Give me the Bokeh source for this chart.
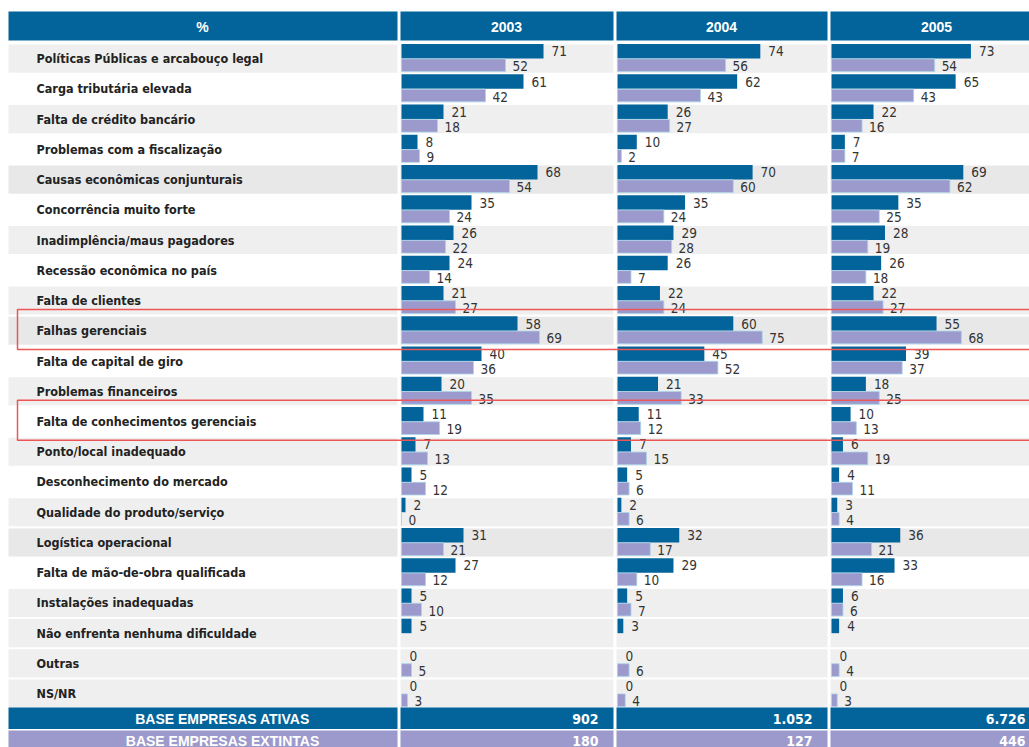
from bokeh.plotting import figure
from bokeh.models import Range1d, ColumnDataSource
from bokeh.core.properties import value
from bokeh.embed import file_html
from bokeh.resources import INLINE

# ---------------- data ----------------
categories = [
    "Políticas Públicas e arcabouço legal",
    "Carga tributária elevada",
    "Falta de crédito bancário",
    "Problemas com a fiscalização",
    "Causas econômicas conjunturais",
    "Concorrência muito forte",
    "Inadimplência/maus pagadores",
    "Recessão econômica no país",
    "Falta de clientes",
    "Falhas gerenciais",
    "Falta de capital de giro",
    "Problemas financeiros",
    "Falta de conhecimentos gerenciais",
    "Ponto/local inadequado",
    "Desconhecimento do mercado",
    "Qualidade do produto/serviço",
    "Logística operacional",
    "Falta de mão-de-obra qualificada",
    "Instalações inadequadas",
    "Não enfrenta nenhuma dificuldade",
    "Outras",
    "NS/NR",
]
years = ["2003", "2004", "2005"]
ativas_2003 = [71, 61, 21, 8, 68, 35, 26, 24, 21, 58, 40, 20, 11, 7, 5, 2, 31, 27, 5, 5, 0, 0]
extintas_2003 = [52, 42, 18, 9, 54, 24, 22, 14, 27, 69, 36, 35, 19, 13, 12, 0, 21, 12, 10, None, 5, 3]
ativas_2004 = [74, 62, 26, 10, 70, 35, 29, 26, 22, 60, 45, 21, 11, 7, 5, 2, 32, 29, 5, 3, 0, 0]
extintas_2004 = [56, 43, 27, 2, 60, 24, 28, 7, 24, 75, 52, 33, 12, 15, 6, 6, 17, 10, 7, None, 6, 4]
ativas_2005 = [73, 65, 22, 7, 69, 35, 28, 26, 22, 55, 39, 18, 10, 6, 4, 3, 36, 33, 6, 4, 0, 0]
extintas_2005 = [54, 43, 16, 7, 62, 25, 19, 18, 27, 68, 37, 25, 13, 19, 11, 4, 21, 16, 6, None, 4, 3]
base_ativas = ["902", "1.052", "6.726"]
base_extintas = ["180", "127", "446"]
highlighted = ["Falhas gerenciais", "Falta de conhecimentos gerenciais"]
row_shade = ["g", "w", "g", "w", "d", "w", "g", "w", "g", "d", "w",
             "g", "w", "g", "w", "g", "d", "w", "g", "g", "g", "g"]

# ---------------- style ----------------
DARK = "#02649a"
LIGHT = "#9c9acc"
GRAY = "#efefef"
DGRAY = "#e8e8e8"
NARROW = value("'DejaVu Sans Condensed', 'Liberation Sans Narrow', sans-serif")
SANS = value("Liberation Sans")

W, H = 1029, 747
ROW_TOP, PITCH = 43.0, 30.24

p = figure(width=W, height=H, x_range=Range1d(0, W), y_range=Range1d(H, 0),
           output_backend="svg", toolbar_location=None, min_border=0,
           x_axis_type=None, y_axis_type=None, outline_line_color=None)
p.grid.visible = False
p.background_fill_color = "white"
p.border_fill_color = "white"

# row scale: row index i -> centred on row i
r_top = -ROW_TOP / PITCH - 0.5
r_bot = (H - ROW_TOP) / PITCH - 0.5
p.extra_y_ranges = {"rows": Range1d(start=r_bot, end=r_top)}

# columns (layout px): label, 2003, 2004, 2005
col_left = [8, 400, 616, 830]
col_right = [397, 613, 827, W + 20]
scales = [2.0, 1.93, 1.91]
zero_px = [401, 617, 831]
p.extra_x_ranges = {}
for y, z, s in zip(years, zero_px, scales):
    p.extra_x_ranges["c" + y] = Range1d(start=-z / s, end=(W - z) / s)

n = len(categories)
idx = list(range(n))

# row backgrounds
shade_col = {"g": GRAY, "d": DGRAY, "w": "white"}
bg = ColumnDataSource(dict(y=idx, c=[shade_col[s] for s in row_shade]))
for l, r in zip(col_left, col_right):
    p.rect(x=(l + r) / 2, y="y", width=r - l, height=0.93, source=bg,
           fill_color="c", line_color=None, y_range_name="rows")

# header
for l, r in zip(col_left, col_right):
    p.quad(left=l, right=r, top=11, bottom=40, fill_color=DARK, line_color=None)
hdr_x = [202, 506, 721, 936]
p.text(x=hdr_x, y=[26] * 4, text=["%"] + years, text_color="white",
       text_font=SANS, text_font_style="bold", text_font_size="14px",
       text_align="center", text_baseline="middle")

# labels
p.text(x=36, y=idx, text=categories, y_range_name="rows", text_color="#222222",
       text_font=NARROW, text_font_style="bold", text_font_size="12.5px",
       text_align="left", text_baseline="middle")

# bars
for y, a, e in zip(years, [ativas_2003, ativas_2004, ativas_2005],
                   [extintas_2003, extintas_2004, extintas_2005]):
    xr = "c" + y
    sa = ColumnDataSource(dict(y=[i - 0.24 for i in idx], v=a, t=[str(v) for v in a]))
    ii = [i for i in idx if e[i] is not None]
    se = ColumnDataSource(dict(y=[i + 0.22 for i in ii], v=[e[i] for i in ii],
                               t=[str(e[i]) for i in ii]))
    p.hbar(y="y", left=0, right="v", height=0.48, source=sa, fill_color=DARK,
           line_color=None, x_range_name=xr, y_range_name="rows")
    p.hbar(y="y", left=0, right="v", height=0.42, source=se, fill_color=LIGHT,
           line_color="#a9d6ea", line_width=0.8, x_range_name=xr, y_range_name="rows")
    p.text(x="v", y="y", text="t", source=sa, x_offset=8, text_color="#333333",
           text_font=NARROW, text_font_size="13.5px", text_align="left",
           text_baseline="middle", x_range_name=xr, y_range_name="rows")
    p.text(x="v", y="y", text="t", source=se, x_offset=7, y_offset=1, text_color="#333333",
           text_font=NARROW, text_font_size="13.5px", text_align="left",
           text_baseline="middle", x_range_name=xr, y_range_name="rows")

# base rows
for l, r in zip(col_left, col_right):
    p.quad(left=l, right=r, top=707, bottom=728.5, fill_color=DARK, line_color=None)
    p.quad(left=l, right=r, top=730, bottom=H + 5, fill_color=LIGHT, line_color=None)
p.text(x=[222, 222], y=[718, 740], text=["BASE EMPRESAS ATIVAS", "BASE EMPRESAS EXTINTAS"],
       text_color="white", text_font=SANS, text_font_style="bold", text_font_size="14px",
       text_align="center", text_baseline="middle")
val_x = [598, 812, 1025]
p.text(x=val_x, y=[718] * 3, text=base_ativas, text_color="white", text_font=NARROW,
       text_font_style="bold", text_font_size="14px", text_align="right", text_baseline="middle")
p.text(x=val_x, y=[740] * 3, text=base_extintas, text_color="white", text_font=NARROW,
       text_font_style="bold", text_font_size="14px", text_align="right", text_baseline="middle")

# highlight boxes
hi = [categories.index(c) for c in highlighted]
p.quad(left=17, right=W + 10, top=[i - 0.7 for i in hi], bottom=[i + 0.62 for i in hi],
       fill_alpha=0, line_color="#ee5555", line_width=1.5, y_range_name="rows")

open("out.html", "w").write(file_html(p, INLINE))
